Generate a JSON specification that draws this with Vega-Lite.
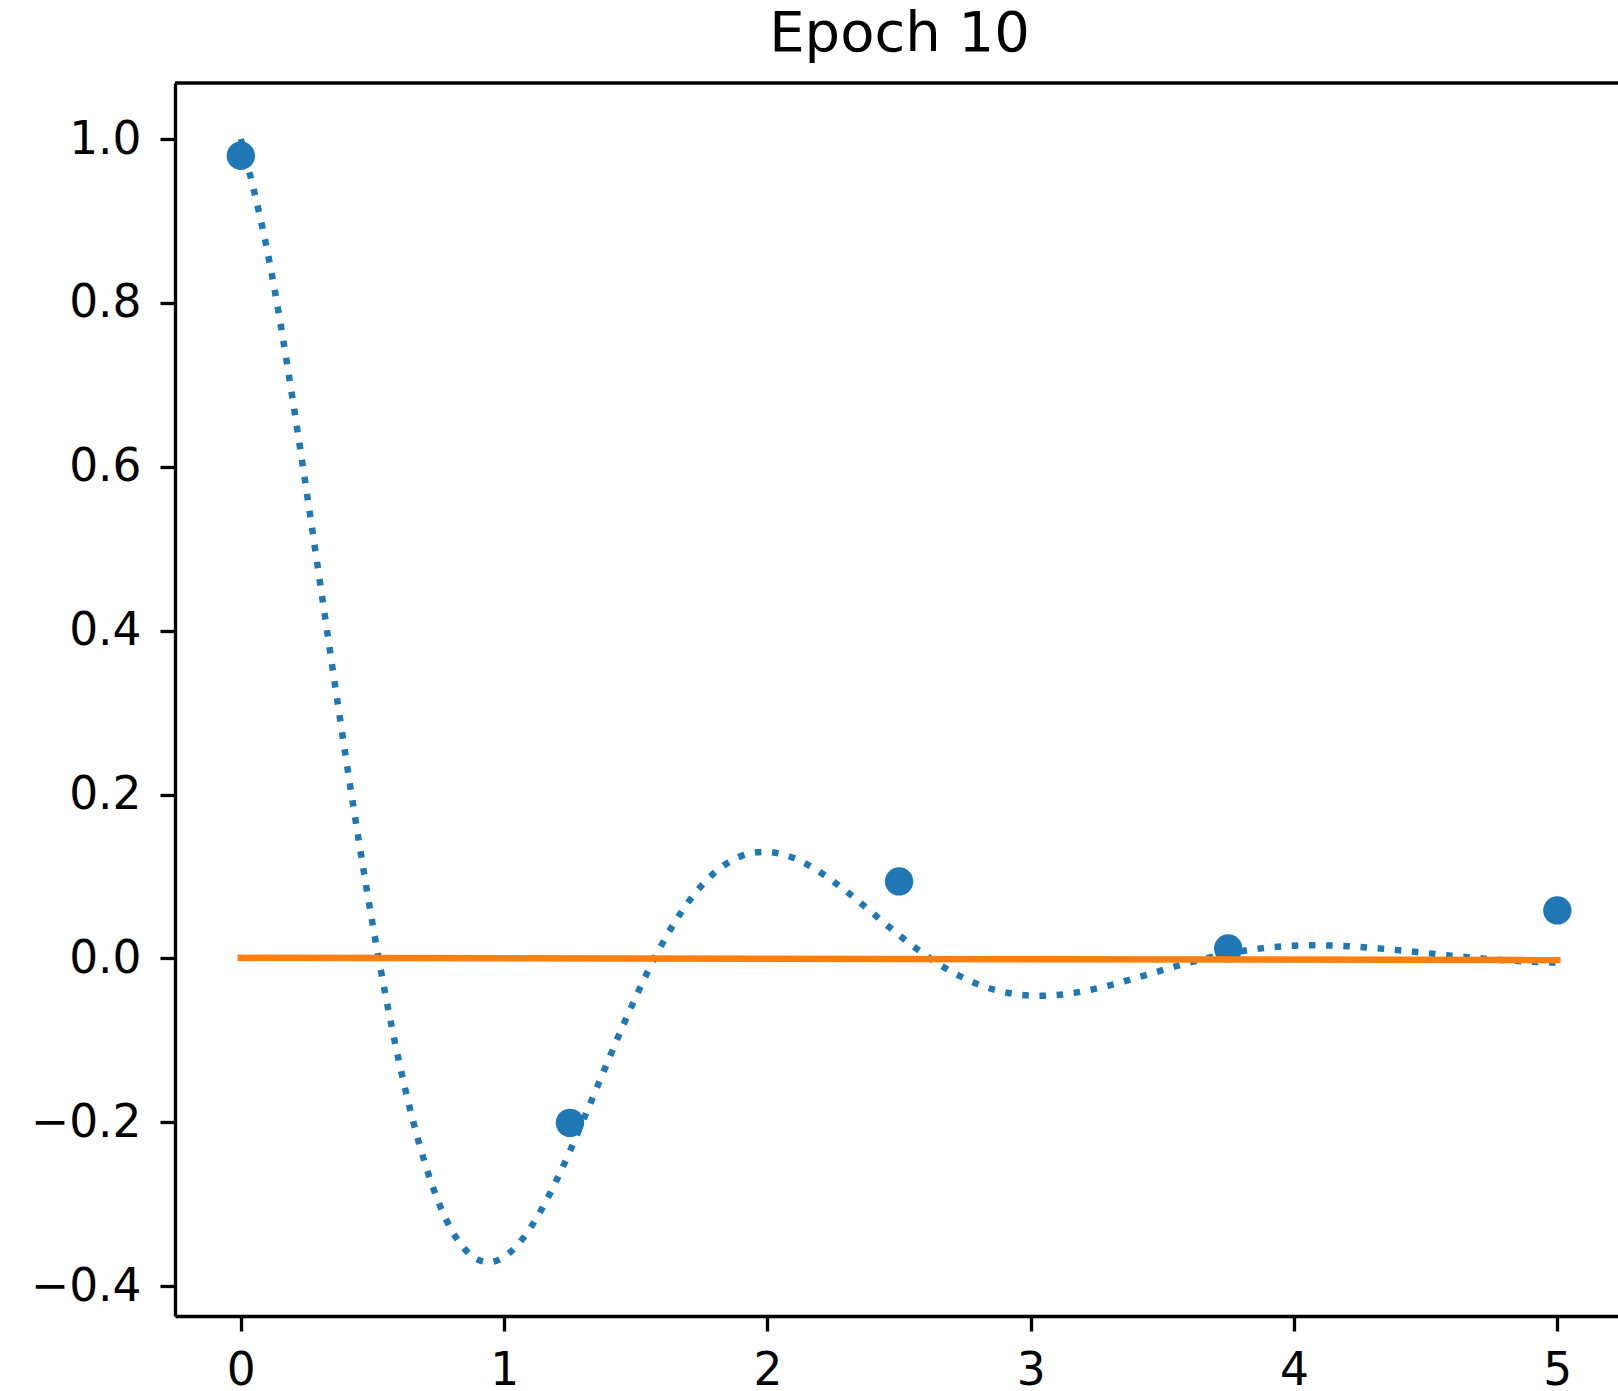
{
  "$schema": "https://vega.github.io/schema/vega-lite/v6.json",
  "width": 1443,
  "height": 1233,
  "autosize": {"type": "none"},
  "padding": {"left": 175, "top": 83, "right": 0, "bottom": 75},
  "background": "white",
  "datasets": {
    "curve": [
      {"x": 0.0, "y": 1.0}, {"x": 0.1, "y": 0.86442}, {"x": 0.2, "y": 0.675728}, {"x": 0.3, "y": 0.4605}, {"x": 0.4, "y": 0.242895},
      {"x": 0.5, "y": 0.042905}, {"x": 0.6, "y": -0.124691}, {"x": 0.7, "y": -0.250699}, {"x": 0.8, "y": -0.331332}, {"x": 0.9, "y": -0.367569},
      {"x": 1.0, "y": -0.364198}, {"x": 1.1, "y": -0.328704}, {"x": 1.2, "y": -0.270098}, {"x": 1.3, "y": -0.197841}, {"x": 1.4, "y": -0.120897},
      {"x": 1.5, "y": -0.047035}, {"x": 1.6, "y": 0.017666}, {"x": 1.7, "y": 0.069051}, {"x": 1.8, "y": 0.104914}, {"x": 1.9, "y": 0.124847},
      {"x": 2.0, "y": 0.129945}, {"x": 2.1, "y": 0.122439}, {"x": 2.2, "y": 0.105289}, {"x": 2.3, "y": 0.081784}, {"x": 2.4, "y": 0.055188},
      {"x": 2.5, "y": 0.028454}, {"x": 2.6, "y": 0.004007}, {"x": 2.7, "y": -0.016368}, {"x": 2.8, "y": -0.031578}, {"x": 2.9, "y": -0.041173},
      {"x": 3.0, "y": -0.045363}, {"x": 3.1, "y": -0.044718}, {"x": 3.2, "y": -0.040138}, {"x": 3.3, "y": -0.032796}, {"x": 3.4, "y": -0.023866},
      {"x": 3.5, "y": -0.01436}, {"x": 3.6, "y": -0.005316}, {"x": 3.7, "y": 0.002577}, {"x": 3.8, "y": 0.008803}, {"x": 3.9, "y": 0.013109},
      {"x": 4.0, "y": 0.015456}, {"x": 4.1, "y": 0.01599}, {"x": 4.2, "y": 0.014989}, {"x": 4.3, "y": 0.012813}, {"x": 4.4, "y": 0.009875},
      {"x": 4.5, "y": 0.006577}, {"x": 4.6, "y": 0.003287}, {"x": 4.7, "y": 0.000297}, {"x": 4.8, "y": -0.002173}, {"x": 4.9, "y": -0.003972},
      {"x": 5.0, "y": -0.005119}
    ],
    "points": [
      {"x": 0.0, "y": 0.9796}, {"x": 1.25, "y": -0.2007}, {"x": 2.5, "y": 0.094}, {"x": 3.75, "y": 0.0122}, {"x": 5.0, "y": 0.0586}
    ],
    "fit": [
      {"x": 0.0, "y": 0.0007}, {"x": 5.0, "y": -0.002}
    ]
  },
  "config": {
    "view": {"stroke": null},
    "font": "DejaVu Sans",
    "axis": {
      "grid": false,
      "domainColor": "black",
      "domainWidth": 3.3,
      "tickColor": "black",
      "tickWidth": 3.3,
      "tickSize": 15,
      "labelFont": "DejaVu Sans",
      "labelFontSize": 45.5,
      "labelColor": "black",
      "title": null
    }
  },
  "title": {
    "text": "Epoch 10",
    "font": "DejaVu Sans",
    "fontSize": 56,
    "fontWeight": "normal",
    "color": "black",
    "anchor": "middle",
    "baseline": "alphabetic",
    "offset": 27,
    "dx": 3,
    "dy": 53
  },
  "layer": [
    {
      "data": {"name": "curve"},
      "mark": {"type": "line", "color": "#1f77b4", "strokeWidth": 6.5, "strokeDash": [6.5, 10.7], "interpolate": "natural"},
      "encoding": {
        "x": {"field": "x", "type": "quantitative", "scale": {"domain": [-0.25, 5.2304], "nice": false, "zero": false},
              "axis": {"values": [0, 1, 2, 3, 4, 5], "format": "d", "labelFlush": false, "labelPadding": 17}},
        "y": {"field": "y", "type": "quantitative", "scale": {"domain": [-0.4364, 1.0684], "nice": false, "zero": false},
              "axis": {"values": [-0.4, -0.2, 0, 0.2, 0.4, 0.6, 0.8, 1.0], "format": ".1f", "labelFlush": false, "labelPadding": 19}}
      }
    },
    {
      "data": {"name": "points"},
      "mark": {"type": "point", "shape": "circle", "filled": true, "opacity": 1, "color": "#1f77b4", "size": 804, "strokeWidth": 0},
      "encoding": {
        "x": {"field": "x", "type": "quantitative"},
        "y": {"field": "y", "type": "quantitative"}
      }
    },
    {
      "data": {"name": "fit"},
      "mark": {"type": "line", "color": "#ff7f0e", "strokeWidth": 6.5, "strokeCap": "square"},
      "encoding": {
        "x": {"field": "x", "type": "quantitative"},
        "y": {"field": "y", "type": "quantitative"}
      }
    },
    {
      "data": {"values": [{}]},
      "mark": {"type": "rule", "color": "black", "strokeWidth": 3.3},
      "encoding": {
        "y": {"datum": 1.0684, "type": "quantitative"}
      }
    }
  ]
}
